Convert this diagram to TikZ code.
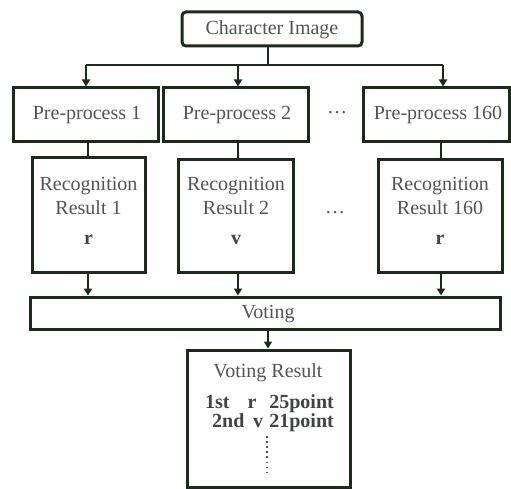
\documentclass[tikz,border=0pt]{standalone}
\usepackage{fontspec}
\setmainfont{Liberation Serif}
\usetikzlibrary{arrows.meta}
\definecolor{edge}{HTML}{1C2A1E}
\definecolor{txt}{HTML}{505552}
\begin{document}
\begin{tikzpicture}[x=1pt,y=-1pt,
  box/.style={draw=edge,line width=3pt,inner sep=0pt,fill=white},
  lbl/.style={text=txt,font=\fontsize{20}{24}\selectfont,inner sep=0pt},
  blbl/.style={text=txt!80!black,font=\fontsize{20}{24}\selectfont\bfseries,inner sep=0pt},
  conn/.style={draw=edge,line width=2pt},
  arr/.style={conn,-{Triangle[length=7pt,width=8pt]}}]
\useasboundingbox[fill=white] (0,0) rectangle (511,489);
% boxes
\node[box,rounded corners=4pt,minimum width=180pt,minimum height=34pt] (ci) at (272,29) {};
\node[lbl] (cit) at (272,30) {Character Image};
\node[box,minimum width=145pt,minimum height=54pt] (pp1) at (85.5,115) {};
\node[box,minimum width=145pt,minimum height=54pt] (pp2) at (235.5,115) {};
\node[box,minimum width=146pt,minimum height=54pt] (pp3) at (436,115) {};
\node[lbl] (pp1t) at (87,115) {Pre-process 1};
\node[lbl] (pp2t) at (237,115) {Pre-process 2};
\node[lbl] (pp3t) at (438,115) {Pre-process 160};
\node[lbl] (d1) at (337,113) {\dots};
\node[box,minimum width=113pt,minimum height=114pt] (rr1) at (88.5,215) {};
\node[box,minimum width=115pt,minimum height=112pt] (rr2) at (235.5,216) {};
\node[box,minimum width=124pt,minimum height=112pt] (rr3) at (440,216) {};
\node[lbl,align=center] (rr1t) at (88.5,196) {Recognition\\Result 1};
\node[lbl,align=center] (rr2t) at (236,196) {Recognition\\Result 2};
\node[lbl,align=center] (rr3t) at (440,196) {Recognition\\Result 160};
\node[blbl] (rr1v) at (88.5,240) {r};
\node[blbl] (rr2v) at (236,240) {v};
\node[blbl] (rr3v) at (440,240) {r};
\node[lbl] (d2) at (335,213) {\dots};
\node[box,minimum width=470pt,minimum height=32pt] (vo) at (265,313) {};
\node[lbl] (vot) at (268,314) {Voting};
\node[box,minimum width=163pt,minimum height=137pt] (vr) at (268.5,418.5) {};
\node[lbl] (vrt) at (268,373) {Voting Result};
\node[blbl,anchor=base west] (a1) at (205,408) {1st};
\node[blbl,anchor=base] (a2) at (252,408) {r};
\node[blbl,anchor=base east] (a3) at (334,408) {25point};
\node[blbl,anchor=base west] (b1) at (212,427) {2nd};
\node[blbl,anchor=base] (b2) at (258,427) {v};
\node[blbl,anchor=base east] (b3) at (334,427) {21point};
\coordinate (dt) at (267,436);
\coordinate (db) at (267,474);
\draw[txt,line width=1.6pt,dash pattern=on 1.6pt off 3.5pt] (dt) -- (db);
% connectors
\coordinate (j) at (268,65);
\coordinate (jl) at (86,65);
\coordinate (jm) at (238,65);
\coordinate (jr) at (443,65);
\draw[conn] (ci.south -| j) -- (j);
\draw[conn] (jl) -- (jr);
\draw[arr] (jl) -- (jl |- pp1.north);
\draw[arr] (jm) -- (jm |- pp2.north);
\draw[arr] (jr) -- (jr |- pp3.north);
\draw[conn] (pp1.south -| 88,0) -- (rr1.north -| 88,0);
\draw[conn] (pp2.south -| 238,0) -- (rr2.north -| 238,0);
\draw[conn] (pp3.south -| 441,0) -- (rr3.north -| 441,0);
\draw[arr] (rr1.south -| 88,0) -- (vo.north -| 88,0);
\draw[arr] (rr2.south -| 238,0) -- (vo.north -| 238,0);
\draw[arr] (rr3.south -| 441,0) -- (vo.north -| 441,0);
\draw[arr] (vo.south -| 268,0) -- (vr.north -| 268,0);
\end{tikzpicture}
\end{document}
